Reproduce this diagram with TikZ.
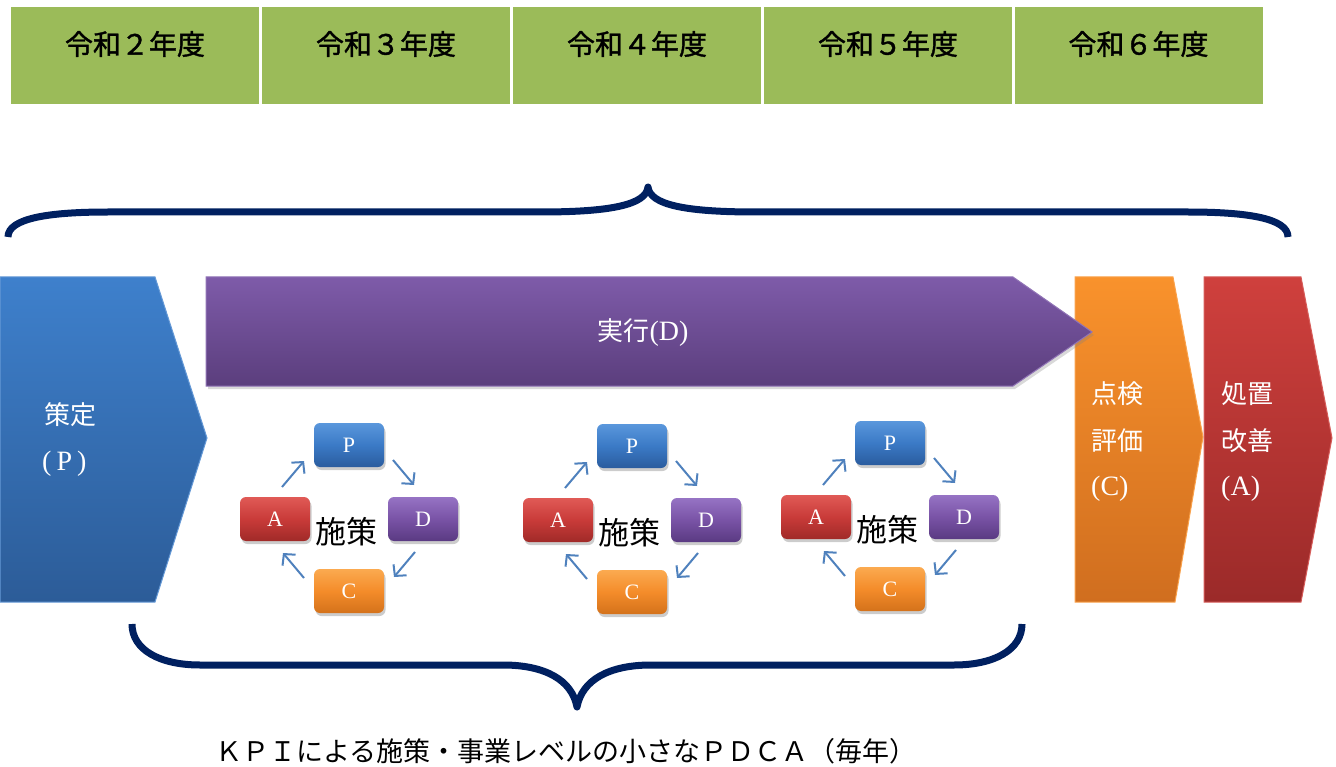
\documentclass[tikz,border=0pt]{standalone}
\usepackage{fontspec}
\setmainfont{Liberation Serif}
\newfontfamily\jp{Noto Sans CJK JP}
\newfontfamily\jpb[FakeBold=1.3]{Noto Sans CJK JP}
\usetikzlibrary{arrows.meta,shadows}
\definecolor{hdrgreen}{HTML}{9BBB59}
\definecolor{navy}{HTML}{002060}
\definecolor{bluT}{HTML}{3E80CC}
\definecolor{bluB}{HTML}{2C5C98}
\definecolor{purT}{HTML}{7E5BA9}
\definecolor{purB}{HTML}{5B3E7D}
\definecolor{oraT}{HTML}{F9922C}
\definecolor{oraB}{HTML}{D06E1F}
\definecolor{redT}{HTML}{CF403D}
\definecolor{redB}{HTML}{9B2A29}
\definecolor{arrblue}{HTML}{4F81BD}
\definecolor{pT}{HTML}{5A97DC}\definecolor{pM}{HTML}{3B7AC6}\definecolor{pB}{HTML}{2A5C9E}
\definecolor{aT}{HTML}{E05A56}\definecolor{aM}{HTML}{C93B39}\definecolor{aB}{HTML}{A02A28}
\definecolor{dT}{HTML}{9673C4}\definecolor{dM}{HTML}{7953A6}\definecolor{dB}{HTML}{5A3A82}
\definecolor{cT}{HTML}{FBAA50}\definecolor{cM}{HTML}{F48C2A}\definecolor{cB}{HTML}{D4721B}
\begin{document}
\begin{tikzpicture}[x=1pt,y=-1pt,
  hdr/.style={rectangle, fill=hdrgreen, minimum width=248pt, minimum height=97pt, inner sep=0pt},
  hdrtext/.style={font=\jpb\fontsize{28}{30}\selectfont, text=black, inner sep=0pt},
  wtext/.style={font=\jp\fontsize{26}{28}\selectfont, text=white, inner sep=0pt, anchor=west},
  sertext/.style={font=\rmfamily\fontsize{28}{30}\selectfont},
  pbox/.style={rectangle, rounded corners=6pt, minimum width=70pt, minimum height=44pt, inner sep=0pt,
    text=white, font=\rmfamily\fontsize{22}{23}\selectfont,
    drop shadow={opacity=0.4, shadow xshift=1.5pt, shadow yshift=-3pt}},
  boxP/.style={pbox, top color=pT, bottom color=pB, middle color=pM},
  boxA/.style={pbox, top color=aT, bottom color=aB, middle color=aM},
  boxD/.style={pbox, top color=dT, bottom color=dB, middle color=dM},
  boxC/.style={pbox, top color=cT, bottom color=cB, middle color=cM},
  cyc/.style={draw=arrblue, line width=2pt, -{Straight Barb[length=8pt,width=17pt]}},
  brace/.style={draw=navy, line width=7pt, line join=round},
  sakutext/.style={font=\jp\fontsize{31}{32}\selectfont, text=black, inner sep=0pt}
]
\useasboundingbox (0,0) rectangle (1336,767);

% year headers
\node[hdr] (h2) at (135,55.5) {};
\node[hdr] (h3) at (386,55.5) {};
\node[hdr] (h4) at (637,55.5) {};
\node[hdr] (h5) at (888,55.5) {};
\node[hdr] (h6) at (1138.5,55.5) {};
\node[hdrtext] (y2) at (135,44) {令和２年度};
\node[hdrtext] (y3) at (386,44) {令和３年度};
\node[hdrtext] (y4) at (637,44) {令和４年度};
\node[hdrtext] (y5) at (888,44) {令和５年度};
\node[hdrtext] (y6) at (1138.5,44) {令和６年度};

% top brace
\draw[brace] (8,237) .. controls (8,218) and (50,212) .. (108,212) -- (540,212)
  .. controls (610,212) and (646,205) .. (648,187)
  .. controls (650,205) and (686,212) .. (756,212) -- (1188,212)
  .. controls (1246,212) and (1288,218) .. (1288,237);

% plan
\shade[top color=bluT, bottom color=bluB, draw=bluT!80!white, line width=1pt]
  (0,277) -- (155,277) -- (207,438) -- (155,602) -- (0,602) -- cycle;
% check
\shade[top color=oraT, bottom color=oraB, draw=oraT!85!white, line width=1pt]
  (1075,277) -- (1173,277) -- (1203,437) -- (1175,602) -- (1075,602) -- cycle;
% act
\shade[top color=redT, bottom color=redB, draw=redT!85!white, line width=1pt]
  (1204,277) -- (1301,277) -- (1332,438) -- (1301,602) -- (1204,602) -- cycle;
% do
\shade[top color=purT, bottom color=purB, draw=purT!85!white, line width=1pt,
  drop shadow={opacity=0.3, shadow xshift=2pt, shadow yshift=-3pt}]
  (206,277) -- (1013,277) -- (1092,332) -- (1013,386) -- (206,386) -- cycle;

\node[wtext] (plan1) at (44,415) {策定};
\node[wtext] (plan2) at (42,464) {{\rmfamily\fontsize{28}{30}\selectfont(\hspace{5pt}P\hspace{5pt})}};
\node[wtext, anchor=center] (do) at (643,333) {実行{\rmfamily\fontsize{28}{30}\selectfont(D)}};
\node[wtext] (chk1) at (1091,394) {点検};
\node[wtext] (chk2) at (1091,441) {評価};
\node[wtext] (chk3) at (1091,489) {{\rmfamily\fontsize{28}{30}\selectfont(C)}};
\node[wtext] (act1) at (1221,394) {処置};
\node[wtext] (act2) at (1221,441) {改善};
\node[wtext] (act3) at (1221,489) {{\rmfamily\fontsize{28}{30}\selectfont(A)}};

% small PDCA cycles
\foreach \cx/\cy/\n in {349/445/1, 632/446/2, 890/443/3} {
  \begin{scope}[shift={(\cx,\cy)}]
    \node[boxP] (P\n) at (0,0) {P};
    \node[boxA] (A\n) at (-74,74) {A};
    \node[boxD] (D\n) at (74,74) {D};
    \node[boxC] (C\n) at (0,146) {C};
    \node[sakutext] (S\n) at (-3,87) {施策};
    \coordinate (ap\n s) at (-67,42); \coordinate (ap\n e) at (-45,16);
    \coordinate (pd\n s) at (44,15);  \coordinate (pd\n e) at (65,40);
    \coordinate (dc\n s) at (66,107); \coordinate (dc\n e) at (45,132);
    \coordinate (ca\n s) at (-45,133); \coordinate (ca\n e) at (-66,108);
    \draw[cyc] (ap\n s) -- (ap\n e);
    \draw[cyc] (pd\n s) -- (pd\n e);
    \draw[cyc] (dc\n s) -- (dc\n e);
    \draw[cyc] (ca\n s) -- (ca\n e);
  \end{scope}
}

% bottom brace
\draw[brace] (132,624) .. controls (132,650) and (160,665) .. (200,665) -- (503,665)
  .. controls (545,665) and (572,680) .. (577,707)
  .. controls (582,680) and (609,665) .. (651,665) -- (954,665)
  .. controls (994,665) and (1022,650) .. (1022,624);

\node[font=\jp\fontsize{27}{28}\selectfont, text=black, inner sep=0pt] (kpi) at (566,751)
  {ＫＰＩによる施策・事業レベルの小さなＰＤＣＡ（毎年）};
\end{tikzpicture}
\end{document}
